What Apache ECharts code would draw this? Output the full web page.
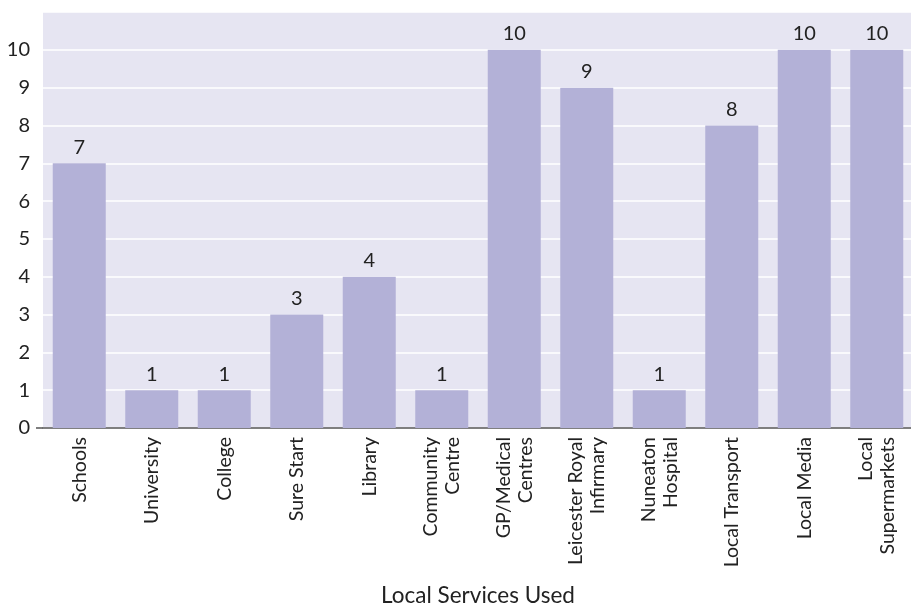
<!DOCTYPE html>
<html>
<head>
<meta charset="utf-8">
<script src="https://cdn.jsdelivr.net/npm/echarts@6/dist/echarts.min.js"></script>
<style>
  html, body { margin: 0; padding: 0; background: #fff; }
  #chart { width: 911px; height: 607px; }
</style>
</head>
<body>
<div id="chart"></div>
<script>
// Services used locally, with counts of respondents
const categories = [
  'Schools', 'University', 'College', 'Sure Start', 'Library',
  'Community\nCentre', 'GP/Medical\nCentres', 'Leicester Royal\nInfirmary',
  'Nuneaton\nHospital', 'Local Transport', 'Local Media', 'Local\nSupermarkets'
];
const counts = [7, 1, 1, 3, 4, 1, 10, 9, 1, 8, 10, 10];
const yTicks = [0, 1, 2, 3, 4, 5, 6, 7, 8, 9, 10];

const FONT = 'Lato, "Open Sans", sans-serif';
const chart = echarts.init(document.getElementById('chart'));

chart.setOption({
  animation: false,
  grid: { left: 43, top: 12, width: 870, bottom: 179, containLabel: false,
          outerBoundsMode: 'none',
          show: true, backgroundColor: '#e6e5f2', borderWidth: 0 },
  xAxis: {
    type: 'category',
    data: categories,
    name: 'Local Services Used',
    nameLocation: 'middle',
    nameGap: 168,
    nameTextStyle: { fontFamily: FONT, fontSize: 22.5, color: '#222', verticalAlign: 'middle' },
    axisLine: { lineStyle: { color: '#555', width: 1.5 } },
    axisTick: { show: false },
    axisLabel: { rotate: 90, interval: 0, margin: 9, fontFamily: FONT, fontSize: 19.5,
                 color: '#222', lineHeight: 22 }
  },
  yAxis: {
    type: 'value',
    min: 0, max: 11, interval: 1,
    axisLine: { show: false },
    axisTick: { show: false },
    splitLine: { lineStyle: { color: '#ffffff', width: 1.5 } },
    axisLabel: {
      margin: 13, fontFamily: FONT, fontSize: 20, color: '#222',
      formatter: v => (yTicks.includes(v) ? String(v) : '')
    }
  },
  graphic: [{
    type: 'line', shape: { x1: 36, y1: 428, x2: 43, y2: 428 },
    style: { stroke: '#555', lineWidth: 1.5 }
  }],
  series: [{
    type: 'bar',
    data: counts,
    barWidth: 53,
    itemStyle: { color: '#b3b1d7' },
    label: { show: true, position: 'top', distance: 6, fontFamily: FONT,
             fontSize: 20, color: '#222' }
  }]
});
</script>
</body>
</html>
